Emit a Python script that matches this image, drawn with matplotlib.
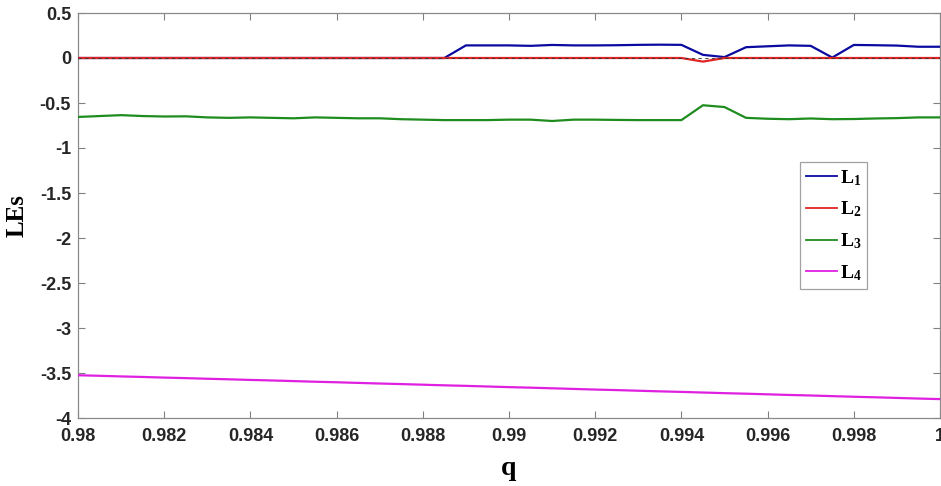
import matplotlib
matplotlib.use("Agg")
import matplotlib.pyplot as plt
from matplotlib.font_manager import FontProperties

q = [0.9800, 0.9805, 0.9810, 0.9815, 0.9820, 0.9825, 0.9830, 0.9835, 0.9840, 0.9845,
     0.9850, 0.9855, 0.9860, 0.9865, 0.9870, 0.9875, 0.9880, 0.9885, 0.9890, 0.9895,
     0.9900, 0.9905, 0.9910, 0.9915, 0.9920, 0.9925, 0.9930, 0.9935, 0.9940, 0.9945,
     0.9950, 0.9955, 0.9960, 0.9965, 0.9970, 0.9975, 0.9980, 0.9985, 0.9990, 0.9995,
     1.0000]

L1 = [0, 0, 0, 0, 0, 0, 0, 0, 0, 0,
      0, 0, 0, 0, 0, 0, 0, 0, 0.140, 0.140,
      0.140, 0.135, 0.145, 0.140, 0.140, 0.142, 0.146, 0.148, 0.146, 0.035,
      0.010, 0.120, 0.130, 0.140, 0.135, 0.005, 0.145, 0.142, 0.138, 0.125,
      0.125]

L2 = [0, 0, 0, 0, 0, 0, 0, 0, 0, 0,
      0, 0, 0, 0, 0, 0, 0, 0, 0, 0,
      0, 0, 0, 0, 0, 0, 0, 0, 0, -0.040,
      0, 0, 0, 0, 0, 0, 0, 0, 0, 0,
      0]

L3 = [-0.655, -0.645, -0.635, -0.645, -0.650, -0.648, -0.660, -0.665, -0.660, -0.665,
      -0.670, -0.660, -0.665, -0.670, -0.670, -0.680, -0.685, -0.690, -0.690, -0.690,
      -0.685, -0.685, -0.700, -0.685, -0.685, -0.688, -0.690, -0.690, -0.690, -0.525,
      -0.545, -0.665, -0.675, -0.680, -0.672, -0.680, -0.678, -0.672, -0.668, -0.660,
      -0.660]

L4 = [-3.525, -3.531, -3.538, -3.544, -3.551, -3.557, -3.564, -3.570, -3.577, -3.583,
      -3.590, -3.597, -3.603, -3.610, -3.617, -3.623, -3.630, -3.637, -3.643, -3.650,
      -3.657, -3.663, -3.670, -3.677, -3.684, -3.690, -3.697, -3.704, -3.710, -3.717,
      -3.724, -3.730, -3.737, -3.744, -3.750, -3.757, -3.764, -3.770, -3.777, -3.784,
      -3.790]

labels = [r"$\mathbf{L_1}$", r"$\mathbf{L_2}$", r"$\mathbf{L_3}$", r"$\mathbf{L_4}$"]
colors = ["#0a0aa0", "#e02424", "#1e8c1e", "#e020e0"]

xticks = [0.98, 0.982, 0.984, 0.986, 0.988, 0.99, 0.992, 0.994, 0.996, 0.998, 1.0]
xticklabels = ["0.98", "0.982", "0.984", "0.986", "0.988", "0.99", "0.992", "0.994", "0.996", "0.998", "1"]
yticks = [-4, -3.5, -3, -2.5, -2, -1.5, -1, -0.5, 0, 0.5]
yticklabels = ["-4", "-3.5", "-3", "-2.5", "-2", "-1.5", "-1", "-0.5", "0", "0.5"]

plt.rcParams['mathtext.fontset'] = 'custom'
plt.rcParams['mathtext.rm'] = 'Liberation Serif'
plt.rcParams['mathtext.bf'] = 'Liberation Serif:bold'

fig = plt.figure(figsize=(9.41, 4.86), dpi=100)
ax = fig.add_axes([78/941, 68/486, 862/941, 405/486])

ax.plot(q, L1, color=colors[0], lw=1.6, label=labels[0], zorder=3)
ax.plot(q, L2, color=colors[1], lw=1.6, label=labels[1], zorder=4)
ax.plot(q, [0]*len(q), color="#303030", lw=0.6, ls=(0, (4, 4)), zorder=5)
ax.plot(q, L3, color=colors[2], lw=1.6, label=labels[2], zorder=3)
ax.plot(q, L4, color=colors[3], lw=1.6, label=labels[3], zorder=3)

ax.set_xlim(0.98, 1.0)
ax.set_ylim(-4, 0.5)

tickfont = FontProperties(family=['Liberation Sans', 'DejaVu Sans'], weight='bold', size=13)
ax.set_xticks(xticks)
ax.set_xticklabels(xticklabels, fontproperties=tickfont, color="#262626")
ax.set_yticks(yticks)
ax.set_yticklabels(yticklabels, fontproperties=tickfont, color="#262626")
ax.tick_params(direction='in', length=5, width=0.8, color="#808080",
               top=True, right=True)
ax.tick_params(axis='x', pad=7)
ax.tick_params(axis='y', pad=5)
for s in ax.spines.values():
    s.set_color("#8a8a8a")
    s.set_linewidth(0.9)

ax.set_xlabel("q", family="Liberation Serif", weight="bold", fontsize=20, labelpad=8)
ax.set_ylabel("LEs", family="Liberation Serif", weight="bold", fontsize=18, labelpad=8)

leg = ax.legend(loc="upper left", bbox_to_anchor=((800-78)/862, (418-162)/405),
                fontsize=14, frameon=True, fancybox=False, handlelength=1.6,
                handletextpad=0.15, labelspacing=0.62, borderpad=0.3,
                borderaxespad=0)
leg.get_frame().set_edgecolor("#8a8a8a")
leg.get_frame().set_linewidth(0.9)
for line in leg.get_lines():
    line.set_linewidth(1.3)

fig.savefig("out.png", dpi=100)
